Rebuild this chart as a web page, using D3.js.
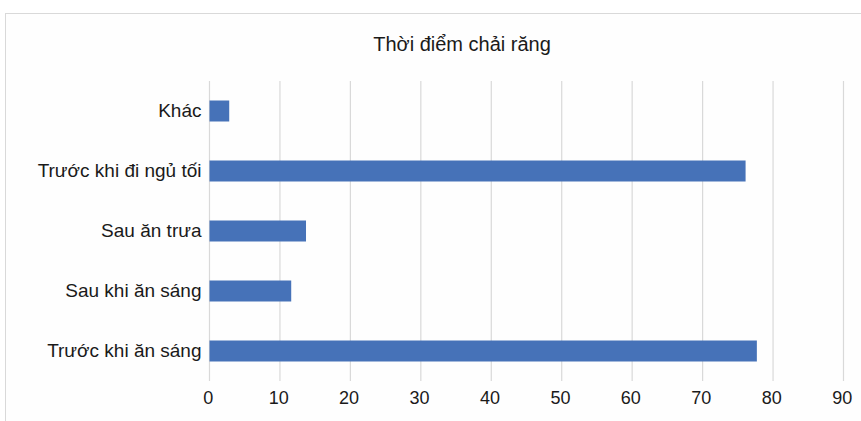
<!DOCTYPE html>
<html>
<head>
<meta charset="utf-8">
<script src="https://cdn.jsdelivr.net/npm/d3@7"></script>
<style>
  html, body { margin: 0; padding: 0; background: #ffffff; }
  svg { display: block; font-family: "Liberation Sans", Arial, sans-serif; }
</style>
</head>
<body>
<svg id="chart" width="861" height="421"></svg>
<script>
// Brushing times survey: categories listed top to bottom
const categories = ["Khác", "Trước khi đi ngủ tối", "Sau ăn trưa", "Sau khi ăn sáng", "Trước khi ăn sáng"];
const values = [2.8, 76.1, 13.7, 11.6, 77.7];
const xTicks = [0, 10, 20, 30, 40, 50, 60, 70, 80, 90];
const title = "Thời điểm chải răng";

const svg = d3.select("#chart");
const W = 861, H = 421;
const margin = { top: 81, right: 18, bottom: 40, left: 209.5 };

// outer frame
svg.append("rect")
  .attr("x", 5.5).attr("y", 13.5)
  .attr("width", W + 10).attr("height", H + 10)
  .attr("fill", "#fefefe")
  .attr("stroke", "#d9d9d9").attr("stroke-width", 1);

const x = d3.scaleLinear().domain([0, 90]).range([margin.left, 843.5]);
const y = d3.scaleBand().domain(categories).range([margin.top, 381]).paddingInner(0.65).paddingOuter(0.325);

// vertical gridlines
svg.append("g").selectAll("line").data(xTicks).join("line")
  .attr("x1", d => x(d)).attr("x2", d => x(d))
  .attr("y1", margin.top).attr("y2", 381)
  .attr("stroke", "#d9d9d9").attr("stroke-width", 1.2);

// bars
svg.append("g").selectAll("rect").data(categories).join("rect")
  .attr("x", x(0))
  .attr("y", d => y(d))
  .attr("width", (d, i) => x(values[i]) - x(0))
  .attr("height", y.bandwidth())
  .attr("fill", "#4672b8");

// x axis labels
const xAxis = d3.axisBottom(x).tickValues(xTicks).tickSize(0).tickPadding(0);
const gx = svg.append("g").attr("transform", "translate(0,391)").call(xAxis);
gx.select(".domain").remove();
gx.selectAll("text")
  .attr("font-family", "'Liberation Sans', Arial, sans-serif")
  .attr("font-size", 18).attr("fill", "#1a1a1a")
  .attr("dy", "0.72em")
  .attr("dx", "-0.1em");

// category labels
const yAxis = d3.axisLeft(y).tickSize(0).tickPadding(8);
const gy = svg.append("g").attr("transform", `translate(${margin.left},0)`).call(yAxis);
gy.select(".domain").remove();
gy.selectAll("text")
  .attr("font-family", "'Liberation Sans', Arial, sans-serif")
  .attr("font-size", 19).attr("fill", "#1a1a1a");

// title
svg.append("text")
  .attr("x", 462).attr("y", 46)
  .attr("text-anchor", "middle").attr("dominant-baseline", "middle")
  .attr("font-size", 20).attr("fill", "#1a1a1a")
  .text(title);
</script>
</body>
</html>
